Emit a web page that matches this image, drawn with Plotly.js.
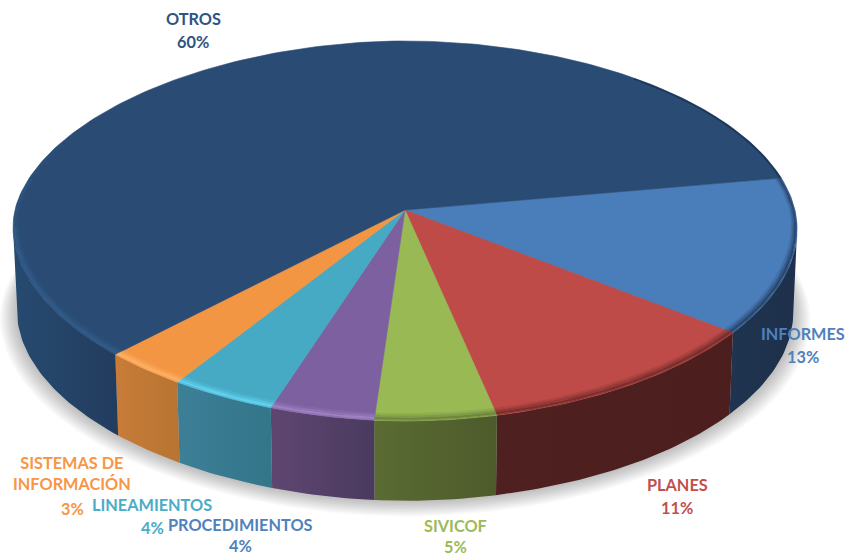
<!DOCTYPE html>
<html>
<head>
<meta charset="utf-8">
<script src="https://cdn.plot.ly/plotly-3.0.1.min.js"></script>
<style>html,body{margin:0;padding:0;background:#fff}#chart{width:858px;height:556px}</style>
</head>
<body>
<div id="chart"></div>
<script>
// Data, clockwise from the Otros/Informes boundary
const categories = ['INFORMES', 'PLANES', 'SIVICOF', 'PROCEDIMIENTOS', 'LINEAMIENTOS', 'SISTEMAS DE<br>INFORMACIÓN', 'OTROS'];
const values = [13.3, 11.1, 4.5, 3.9, 4.0, 3.2, 60.0];
const percentLabels = ['13%', '11%', '5%', '4%', '4%', '3%', '60%'];

// Styles
const topColors = ['#4a7ebb', '#be4b48', '#98b954', '#7d60a0', '#46aac5', '#f39643', '#2a4b73'];
const wallLeft = ['#1f3450', '#4f2020', '#5a6b33', '#5f4672', '#3c7f97', '#c87c38', '#274a70'];
const wallRight = ['#1e304b', '#4c1e1e', '#4d5b2b', '#4a3a5e', '#33768a', '#b87432', '#223c5e'];
const bevelColors = ['36,60,95', '110,42,40', '105,125,60', '163,134,201', '102,216,244', '255,181,106', '50,94,140'];
const labelColors = ['#4f81bd', '#c0504d', '#9bbb59', '#4f81bd', '#4bacc6', '#f79646', '#2f5480'];
const labelX = [803, 677, 455, 240, 152, 72, 193];
const nameY = [333, 484, 525, 524, 504, 473, 18];
const percentY = [356, 507, 546, 545, 527, 508, 41];

// Projection of the pie disc onto the page (pixel-mapped axes)
const startAngle = 100, cx = 405, cy = 210, A = 390, B = 187.7, k = 0.1105;
const squeezeRight = 1.96, squeezeLeft = 1.92;
const wallDrop = 84, wallScaleX = 0.99, wallScaleY = 0.98, wallLimit = 84;
function project(deg, r, sx, sy, drop) {
  const t = deg * Math.PI / 180, s = Math.abs(Math.sin(t)), c = Math.abs(Math.cos(t));
  const p = Math.sin(t) > 0 ? squeezeRight : squeezeLeft;
  const rr = r / Math.pow(Math.pow(s, p) + Math.pow(c, p), 1 / p);
  const u = rr * Math.sin(t), v = rr * Math.cos(t), d = 1 - k * v;
  return [cx + sx * A * u / d, cy + drop + sy * B * v / d];
}
function arc(a0, a1, r, sx, sy, drop) {
  const n = Math.max(2, Math.ceil(Math.abs(a1 - a0))), pts = [];
  for (let i = 0; i <= n; i++) pts.push(project(a0 + (a1 - a0) * i / n, r, sx, sy, drop));
  return pts;
}
// rim band: narrower on the flanks than at the front
function bandArc(a0, a1, r) {
  const n = Math.max(2, Math.ceil(Math.abs(a1 - a0))), pts = [];
  for (let i = 0; i <= n; i++) {
    const d = a0 + (a1 - a0) * i / n, c = Math.abs(Math.cos(d * Math.PI / 180));
    pts.push(project(d, 1 - (1 - r) * (0.45 + 0.55 * c), 1, 1, 0));
  }
  return pts;
}
function poly(pts, style) {
  const x = pts.map(p => p[0]), y = pts.map(p => p[1]);
  x.push(x[0]); y.push(y[0]);
  return Object.assign({type: 'scatter', mode: 'lines', x, y, fill: 'toself', hoverinfo: 'skip',
    line: {width: 0}}, style);
}
function grad(c0, c1) {
  return {type: 'horizontal', colorscale: [[0, c0], [1, c1]]};
}

const traces = [];
// soft shadow under the pie
for (let i = 0; i < 12; i++) {
  traces.push(poly(arc(-180, 180, 1, wallScaleX * (1 + 0.004 * i), wallScaleY * (1 + 0.004 * i), wallDrop + 0.6 * i),
    {fillcolor: 'rgba(0,0,0,0.025)'}));
}
// slice boundaries
const spans = [];
let a = startAngle;
values.forEach(v => { spans.push([a, a - v * 3.6]); a -= v * 3.6; });
const otros = spans.length - 1;

// walls (front half only, up to the widest point of the disc)
spans.forEach((s, i) => {
  const from = Math.min(s[0], wallLimit), to = Math.max(s[1], -wallLimit);
  const pts = arc(from, to, 1, 1, 1, 0).concat(arc(to, from, 1, wallScaleX, wallScaleY, wallDrop));
  traces.push(poly(pts, {fillgradient: grad(wallLeft[i], wallRight[i])}));
});
// top faces
spans.forEach((s, i) => {
  traces.push(poly([[cx, cy]].concat(arc(s[0], s[1], 1, 1, 1, 0)), {fillcolor: topColors[i], line: {width: 0.6, color: topColors[i]}}));
});
// bevel along the rim, blurred by graded bands
const bandEdges = [0.968, 0.977, 0.986, 0.995, 1];
const bandAlpha = [0.2, 0.5, 0.85, 0.55];
function bevel(from, to, rgb, strength) {
  bandAlpha.forEach((al, j) => {
    traces.push(poly(bandArc(from, to, bandEdges[j]).concat(bandArc(to, from, bandEdges[j + 1])),
      {fillcolor: 'rgba(' + rgb + ',' + (al * strength) + ')'}));
  });
}
spans.forEach((s, i) => {
  if (i === otros) {
    bevel(s[0], -85, bevelColors[i], 1);
    bevel(-85, -100, bevelColors[i], 0.6);
    bevel(-100, -112, bevelColors[i], 0.25);
  } else {
    bevel(s[0], s[1], bevelColors[i], 1);
  }
});
// dark upper-right edge of the largest slice
traces.push(poly(bandArc(100, 140, 0.99).concat(bandArc(140, 100, 1)), {fillcolor: 'rgba(25,50,80,0.8)'}));

const labelFont = c => ({family: 'Lato, "Open Sans", sans-serif', size: 16.3, color: c, weight: 700});
const annotations = [];
categories.forEach((c, i) => {
  annotations.push({x: labelX[i], y: nameY[i], xref: 'x', yref: 'y', showarrow: false, text: c, align: 'center', borderpad: 0, font: labelFont(labelColors[i])});
  annotations.push({x: labelX[i], y: percentY[i], xref: 'x', yref: 'y', showarrow: false, text: percentLabels[i], align: 'center', borderpad: 0, font: labelFont(labelColors[i])});
});

const layout = {
  width: 858, height: 556, margin: {l: 0, r: 0, t: 0, b: 0},
  paper_bgcolor: '#ffffff', plot_bgcolor: '#ffffff', showlegend: false,
  xaxis: {range: [0, 858], visible: false, fixedrange: true},
  yaxis: {range: [556, 0], visible: false, fixedrange: true},
  annotations
};
Plotly.newPlot('chart', traces, layout, {displayModeBar: false, staticPlot: true});
</script>
</body>
</html>
